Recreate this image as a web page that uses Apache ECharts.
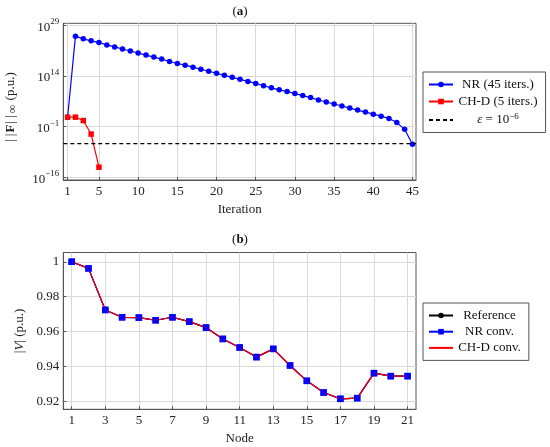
<!DOCTYPE html>
<html>
<head>
<meta charset="utf-8">
<script src="https://cdn.jsdelivr.net/npm/echarts@6/dist/echarts.min.js"></script>
<style>
html,body{margin:0;padding:0;background:#fff;}
#c{width:550px;height:447px;}
</style>
</head>
<body>
<div id="c"></div>
<script>
// ---- Data (a): log10 of ||F||inf per iteration ----
const nrLog10Residual = [1.8, 25.8, 25.0, 24.4, 23.9, 23.2, 22.6, 22.0, 21.4, 20.8,
  20.2, 19.6, 19.0, 18.3, 17.7, 17.2, 16.6, 16.0, 15.4, 14.8,
  14.2, 13.6, 13.0, 12.4, 11.8, 11.1, 10.5, 9.9, 9.4, 8.8,
  8.2, 7.6, 6.9, 6.3, 5.7, 5.1, 4.5, 3.9, 3.3, 2.7,
  2.1, 1.4, 0.2, -1.8, -6.2];
const chdLog10Residual = [1.8, 1.8, 0.8, -3.2, -13.0];
const epsLog10 = -6;
const iterTicks = [1, 5, 10, 15, 20, 25, 30, 35, 40, 45];
const residualTicks = [-16, -1, 14, 29];

// ---- Data (b): voltage magnitude per node ----
const nodes = [1,2,3,4,5,6,7,8,9,10,11,12,13,14,15,16,17,18,19,20,21];
const vReference = [1.000, 0.9962, 0.9724, 0.9682, 0.9680, 0.9665, 0.9682, 0.9657, 0.9623, 0.9558,
  0.9509, 0.9454, 0.9501, 0.9406, 0.9318, 0.9251, 0.9215, 0.9219, 0.9362, 0.9345, 0.9345];
const vNR = vReference.slice();
const vCHD = vReference.slice();
const nodeTicks = [1,3,5,7,9,11,13,15,17,19,21];
const voltTicks = [0.92, 0.94, 0.96, 0.98, 1];

const FONT = 'Liberation Serif';
const AXC = '#555';
const GRIDC = '#d9d9d9';

const toPairs = (ys, xs) => ys.map((y, i) => [xs ? xs[i] : i + 1, y]);
const supNum = n => (n < 0 ? '\u2212' + Math.abs(n) : String(n));

const topXMin = 0.45, topXMax = 45.45;

const chart = echarts.init(document.getElementById('c'), null, {renderer: 'canvas'});

const baseAxis = {
  axisLine: {show: true, onZero: false, lineStyle: {color: AXC, width: 1}},
  axisTick: {show: true, inside: true, length: 3, lineStyle: {color: AXC}},
  splitLine: {show: true, lineStyle: {color: GRIDC, width: 1}},
  axisLabel: {fontFamily: FONT, fontSize: 13, color: '#222'},
  nameTextStyle: {fontFamily: FONT, fontSize: 13, color: '#222'}
};

const option = {
  animation: false,
  textStyle: {fontFamily: FONT},
  title: [
    {text: '({b|a})', left: 240, top: 5, textAlign: 'center', padding: 0,
     textStyle: {fontFamily: FONT, fontSize: 13, fontWeight: 'normal', color: '#111',
       rich: {b: {fontFamily: FONT, fontSize: 13, fontWeight: 'bold', color: '#111'}}}},
    {text: '({b|b})', left: 240, top: 233, textAlign: 'center', padding: 0,
     textStyle: {fontFamily: FONT, fontSize: 13, fontWeight: 'normal', color: '#111',
       rich: {b: {fontFamily: FONT, fontSize: 13, fontWeight: 'bold', color: '#111'}}}}
  ],
  grid: [
    {left: 63.3, top: 23.3, width: 352.7, height: 156.7, show: true, borderColor: AXC, borderWidth: 1,
     containLabel: false, outerBoundsMode: 'none'},
    {left: 63.3, top: 252.5, width: 352.7, height: 156.8, show: true, borderColor: AXC, borderWidth: 1,
     containLabel: false, outerBoundsMode: 'none'}
  ],
  legend: [
    {
      data: ['NR (45 iters.)', 'CH-D (5 iters.)', {name: 'eps', itemStyle: {opacity: 0}}],
      orient: 'vertical', left: 423, top: 72,
      padding: [6, 8, 6, 5], itemGap: 4, itemWidth: 24, itemHeight: 7,
      borderColor: AXC, borderWidth: 1, borderRadius: 0, backgroundColor: '#fff',
      formatter: function (name) {
        if (name === 'eps') return '{e|\u03b5}{c| = 10}{s|\u22126}';
        return '{c|' + name + '}';
      },
      textStyle: {fontFamily: FONT, fontSize: 13, color: '#111', width: 80,
        rich: {
          c: {fontFamily: FONT, fontSize: 13, align: 'center', color: '#111'},
          e: {fontFamily: FONT, fontSize: 13, fontStyle: 'italic', align: 'center', color: '#111'},
          s: {fontFamily: FONT, fontSize: 9, align: 'center', padding: [0, 0, 7, 0], color: '#111'}
        }}
    },
    {
      data: ['Reference', 'NR conv.', {name: 'CH-D conv.', itemStyle: {opacity: 0}}],
      orient: 'vertical', left: 423, top: 303,
      padding: [6, 8, 6, 5], itemGap: 3.2, itemWidth: 24, itemHeight: 7,
      borderColor: AXC, borderWidth: 1, borderRadius: 0, backgroundColor: '#fff',
      formatter: function (name) { return '{c|' + name + '}'; },
      textStyle: {fontFamily: FONT, fontSize: 13, color: '#111', width: 63,
        rich: {c: {fontFamily: FONT, fontSize: 13, align: 'center', color: '#111'}}}
    }
  ],
  xAxis: [
    Object.assign({}, baseAxis, {
      type: 'value', gridIndex: 0, min: topXMin, max: topXMax,
      name: 'Iteration', nameLocation: 'middle', nameGap: 23,
      axisLabel: Object.assign({}, baseAxis.axisLabel, {margin: 5, customValues: iterTicks}),
      axisTick: Object.assign({}, baseAxis.axisTick, {customValues: iterTicks})
    }),
    Object.assign({}, baseAxis, {
      type: 'value', gridIndex: 1, min: 0.5, max: 21.5,
      name: 'Node', nameLocation: 'middle', nameGap: 23,
      axisLabel: Object.assign({}, baseAxis.axisLabel, {margin: 5, customValues: nodeTicks}),
      axisTick: Object.assign({}, baseAxis.axisTick, {customValues: nodeTicks})
    })
  ],
  yAxis: [
    Object.assign({}, baseAxis, {
      type: 'value', gridIndex: 0, min: -16.8, max: 29.6,
      name: '{d|| |}{b|F}{d|| |}{i|\u221e} (p.u.)', nameLocation: 'middle', nameGap: 44, nameRotate: 90,
      nameTextStyle: Object.assign({}, baseAxis.nameTextStyle, {
        padding: [0, 12, 0, 0],
        rich: {
          d: {fontFamily: FONT, fontSize: 13, color: '#222', padding: [0, 1, 0, 1]},
          b: {fontFamily: FONT, fontSize: 13, fontWeight: 'bold', color: '#222'},
          i: {fontFamily: FONT, fontSize: 12, color: '#222', padding: [6, 1, 0, 1]}
        }}),
      axisLabel: Object.assign({}, baseAxis.axisLabel, {
        margin: 4, customValues: residualTicks,
        formatter: v => '{t|10}{s|' + supNum(Math.round(v)) + '}',
        rich: {
          t: {fontFamily: FONT, fontSize: 13, color: '#222', padding: [4, 0, 0, 0]},
          s: {fontFamily: FONT, fontSize: 9, color: '#222', padding: [0, 0, 7, 0]}
        }
      }),
      axisTick: Object.assign({}, baseAxis.axisTick, {customValues: residualTicks})
    }),
    Object.assign({}, baseAxis, {
      type: 'value', gridIndex: 1, min: 0.9155, max: 1.0053,
      name: '|{i|V}| (p.u.)', nameLocation: 'middle', nameGap: 36, nameRotate: 90,
      nameTextStyle: Object.assign({}, baseAxis.nameTextStyle, {
        rich: {i: {fontFamily: FONT, fontSize: 13, fontStyle: 'italic', color: '#222'}}}),
      axisLabel: Object.assign({}, baseAxis.axisLabel, {
        margin: 4, customValues: voltTicks,
        formatter: v => (Math.abs(v - 1) < 1e-9 ? '1' : v.toFixed(2))
      }),
      axisTick: Object.assign({}, baseAxis.axisTick, {customValues: voltTicks})
    })
  ],
  series: [
    {
      name: 'NR (45 iters.)', type: 'line', xAxisIndex: 0, yAxisIndex: 0,
      data: toPairs(nrLog10Residual), symbol: 'circle', symbolSize: 5.5,
      lineStyle: {color: '#0000ff', width: 1.2}, itemStyle: {color: '#0000ff'}, z: 3
    },
    {
      name: 'CH-D (5 iters.)', type: 'line', xAxisIndex: 0, yAxisIndex: 0,
      data: toPairs(chdLog10Residual), symbol: 'rect', symbolSize: 5.5,
      lineStyle: {color: '#ff0000', width: 1.2}, itemStyle: {color: '#ff0000'}, z: 4
    },
    {
      name: 'eps', type: 'line', xAxisIndex: 0, yAxisIndex: 0,
      data: [[topXMin, epsLog10], [topXMax, epsLog10]], symbol: 'none',
      lineStyle: {color: '#000', width: 1.3, type: [4, 3]}, itemStyle: {color: '#000'}, z: 5
    },
    {
      name: 'Reference', type: 'line', xAxisIndex: 1, yAxisIndex: 1,
      data: toPairs(vReference, nodes), symbol: 'circle', symbolSize: 5,
      lineStyle: {color: '#000', width: 1.2}, itemStyle: {color: '#000'}, z: 2
    },
    {
      name: 'NR conv.', type: 'line', xAxisIndex: 1, yAxisIndex: 1,
      data: toPairs(vNR, nodes), symbol: 'rect', symbolSize: 6.5,
      lineStyle: {color: '#0000ff', width: 1.2}, itemStyle: {color: '#0000ff'}, z: 3
    },
    {
      name: 'CH-D conv.', type: 'line', xAxisIndex: 1, yAxisIndex: 1,
      data: toPairs(vCHD, nodes), symbol: 'none',
      lineStyle: {color: '#ff0000', width: 1.2}, itemStyle: {color: '#ff0000'}, z: 4
    },
    {
      name: 'NR conv. markers', type: 'scatter', xAxisIndex: 1, yAxisIndex: 1,
      data: toPairs(vNR, nodes), symbol: 'rect', symbolSize: 6.5,
      itemStyle: {color: '#0000ff'}, z: 5
    }
  ]
};
chart.setOption(option);
</script>
</body>
</html>
